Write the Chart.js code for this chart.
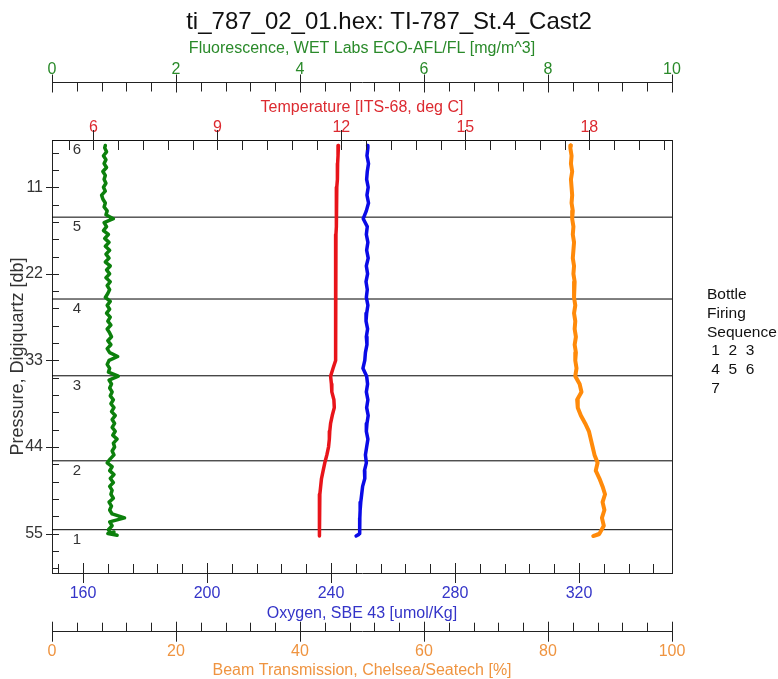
<!DOCTYPE html>
<html>
<head>
<meta charset="utf-8">
<script src="https://cdn.jsdelivr.net/npm/chart.js@4.4.0/dist/chart.umd.min.js"></script>
<style>
    body { margin: 0; background: #fff; }
    canvas { display: block; }
</style>
</head>
<body>
<canvas id="ctd-chart" width="778" height="679"></canvas>
<script>
// profile data (pressure in db)
const pressure = [5.7, 6, 7, 8, 9, 10, 11, 12, 13, 14, 15, 16, 17, 18, 19, 20, 21, 22, 23, 24, 25,
    26, 27, 28, 29, 30, 31, 32, 33, 34, 35, 36, 37, 38, 39, 40, 41, 42, 43, 44, 45,
    46, 47, 48, 49, 50, 51, 52, 53, 54, 55, 55.3, 55.1];
const temperature = [11.93, 11.92, 11.92, 11.91, 11.91, 11.90, 11.89, 11.88, 11.88, 11.88, 11.88, 11.88, 11.87, 11.87, 11.87, 11.87, 11.87, 11.87, 11.86, 11.86, 11.86,
    11.86, 11.86, 11.86, 11.86, 11.86, 11.86, 11.85, 11.85, 11.80, 11.74, 11.76, 11.77, 11.82, 11.83, 11.78, 11.74, 11.72, 11.71, 11.69, 11.65,
    11.60, 11.56, 11.52, 11.50, 11.48, 11.47, 11.47, 11.47, 11.47, 11.47, 11.47, 11.47];
const oxygen = [251.8, 251.9, 251.6, 252.1, 251.7, 251.5, 252.0, 251.6, 252.1, 251.4, 250.4, 251.7, 251.4, 251.9, 251.5, 252.0, 251.4, 251.8, 251.3, 251.7, 251.4,
    251.9, 251.5, 251.3, 251.8, 251.4, 251.6, 251.1, 250.9, 250.3, 251.5, 251.8, 251.4, 251.9, 251.5, 252.0, 251.6, 251.4, 251.9, 251.5, 251.1,
    251.4, 250.8, 250.9, 250.2, 249.9, 249.6, 249.4, 249.3, 249.3, 249.2, 248.1, 249.0];
const beamTransmission = [83.7, 83.6, 83.8, 83.7, 83.9, 83.7, 83.8, 83.9, 83.8, 84.0, 83.9, 84.1, 84.0, 84.2, 84.1, 84.0, 84.2, 84.1, 84.3, 84.2, 84.2,
    84.4, 84.2, 84.4, 84.3, 84.5, 84.3, 84.5, 84.4, 84.6, 84.4, 85.1, 85.4, 84.7, 84.8, 85.3, 86.0, 86.6, 86.9, 87.2, 87.5,
    88.0, 87.7, 88.3, 88.8, 89.2, 88.8, 89.1, 88.7, 89.0, 88.3, 87.3, 88.2];

// fluorescence is noisier, so it gets its own finer pressure list
const pressureFine = [5.7, 6, 6.5, 7, 7.5, 8, 8.5, 9, 9.5, 10, 10.5, 11, 11.5, 12, 12.5, 13, 13.5, 14, 14.5, 15, 15.5,
    16, 16.5, 17, 17.5, 18, 18.5, 19, 19.5, 20, 20.5, 21, 21.5, 22, 22.5, 23, 23.5, 24, 24.5, 25, 25.5,
    26, 26.5, 27, 27.5, 28, 28.5, 29, 29.5, 30, 30.5, 31, 31.5, 32, 32.5, 33, 33.5, 34, 34.5, 35, 35.5,
    36, 36.5, 37, 37.5, 38, 38.5, 39, 39.5, 40, 40.5, 41, 41.5, 42, 42.5, 43, 43.5, 44, 44.5, 45, 45.5,
    46, 46.5, 47, 47.5, 48, 48.5, 49, 49.5, 50, 50.5, 51, 51.5, 52, 52.5, 53, 53.5, 54, 54.5, 55, 55.2, 55.0, 54.8];
const fluorescence = [0.86, 0.85, 0.88, 0.83, 0.87, 0.84, 0.88, 0.82, 0.86, 0.84, 0.87, 0.83, 0.86, 0.80, 0.82, 0.86, 0.84, 0.89, 0.87, 0.99, 0.84,
    0.88, 0.83, 0.91, 0.85, 0.92, 0.86, 0.93, 0.87, 0.92, 0.86, 0.94, 0.88, 0.93, 0.87, 0.94, 0.89, 0.93, 0.90, 0.86, 0.94,
    0.89, 0.93, 0.88, 0.94, 0.90, 0.95, 0.89, 0.93, 0.96, 0.90, 0.95, 0.89, 0.93, 1.06, 0.92, 0.89, 0.93, 0.91, 1.07, 0.92,
    0.96, 0.93, 0.97, 0.94, 0.99, 0.95, 1.00, 0.96, 1.02, 0.97, 1.01, 0.97, 1.02, 0.98, 1.05, 0.99, 1.01, 0.97, 1.00, 0.94,
    0.89, 0.97, 0.93, 1.00, 0.94, 0.99, 0.93, 0.97, 0.95, 0.99, 0.92, 0.96, 0.93, 0.97, 1.17, 0.93, 0.97, 0.91, 0.95, 1.05, 0.90, 1.00];

const bottleNumbers = [1, 2, 3, 4, 5, 6];
const bottlePressure = [54.5, 45.75, 34.95, 25.2, 14.8, 5.0];

const pressureTicks = [11, 22, 33, 44, 55];
const fluorTicks = [0, 2, 4, 6, 8, 10];
const tempTicks = [6, 9, 12, 15, 18];
const oxygenTicks = [160, 200, 240, 280, 320];
const beamTicks = [0, 20, 40, 60, 80, 100];
const legendLines = ['Bottle', 'Firing', 'Sequence', ' 1  2  3', ' 4  5  6', ' 7'];

const GREEN = '#0c800c';
const GREEN_TEXT = '#2a8a2a';
const RED = '#e8141a';
const RED_TEXT = '#dc2a30';
const BLUE = '#0a0ae6';
const BLUE_TEXT = '#3434c8';
const ORANGE = '#ff8a0a';
const ORANGE_TEXT = '#ef9440';
const INK = '#222';
const FONT = "'Liberation Sans', Arial, sans-serif";

Chart.defaults.font.family = FONT;
Chart.defaults.font.size = 16;

function toPoints(xs, ys) {
    return xs.map((v, i) => ({ x: v, y: ys[i] }));
}

function fixedTicks(values) {
    return function(scale) {
        scale.ticks = values.map(v => ({ value: v }));
    };
}

function fixedSize(size) {
    return function(scale) {
        if (scale.isHorizontal()) {
            scale.height = size;
        } else {
            scale.width = size;
        }
    };
}

function profile(label, xs, ys, axis, color, width) {
    return {
        label: label,
        data: toPoints(xs, ys),
        xAxisID: axis,
        yAxisID: 'y',
        showLine: true,
        borderColor: color,
        borderWidth: width,
        borderJoinStyle: 'round',
        borderCapStyle: 'round',
        pointRadius: 0,
        tension: 0,
        order: 1
    };
}

const datasets = [
    profile('Fluorescence', fluorescence, pressureFine, 'xf', GREEN, 3.5),
    profile('Temperature', temperature, pressure, 'xt', RED, 3.5),
    profile('Oxygen', oxygen, pressure, 'xo', BLUE, 3.5),
    profile('Beam Transmission', beamTransmission, pressure, 'xb', ORANGE, 4)
];

// bottle firing lines, across the full width
bottlePressure.forEach((p, i) => {
    datasets.push({
        label: 'Bottle ' + bottleNumbers[i],
        data: [{ x: 0, y: p }, { x: 100, y: p }],
        xAxisID: 'xb',
        yAxisID: 'y',
        showLine: true,
        borderColor: '#000',
        borderWidth: 1,
        pointRadius: 0,
        order: 10
    });
});

function axisTitle(text, color, padding, size, lineHeight) {
    return { display: true, text: text, color: color, font: { size: size || 16, lineHeight: lineHeight || 1.2 }, padding: padding };
}

const plainGrid = { display: true, drawOnChartArea: false, drawTicks: false };
const plainBorder = { display: true, color: INK, width: 1 };

// tick marks drawn by hand: major / minor with different lengths, some inside the frame
const tickSpecs = [
    { id: 'xf', majors: fluorTicks, step: 0.4, edge: 'bottom', major: [-8, 10], minor: [0, 9] },
    { id: 'xt', majors: tempTicks, step: 0.6, edge: 'bottom', major: [-10, 10], minor: [0, 10] },
    { id: 'xo', majors: oxygenTicks, step: 8, edge: 'top', major: [-10, 10], minor: [-9, 0] },
    { id: 'xb', majors: beamTicks, step: 4, edge: 'top', major: [-10, 10], minor: [-9, 0] },
    { id: 'y', majors: pressureTicks, step: 2.2, edge: 'right', major: [-6, 7], minor: [0, 7] }
];

const tickMarks = {
    id: 'tickMarks',
    afterDraw(chart) {
        const ctx = chart.ctx;
        ctx.save();
        ctx.strokeStyle = INK;
        ctx.lineWidth = 1;
        tickSpecs.forEach(spec => {
            const scale = chart.scales[spec.id];
            const base = spec.majors[0];
            const values = [];
            for (let k = -100; k <= 200; k++) {
                const v = Math.round((base + k * spec.step) * 1000) / 1000;
                if (v >= scale.min - 1e-6 && v <= scale.max + 1e-6) values.push(v);
            }
            const line = scale[spec.edge];
            values.forEach(v => {
                const isMajor = spec.majors.some(m => Math.abs(m - v) < 1e-6);
                const len = isMajor ? spec.major : spec.minor;
                const px = Math.round(scale.getPixelForValue(v)) + 0.5;
                ctx.beginPath();
                if (scale.isHorizontal()) {
                    ctx.moveTo(px, line + len[0]);
                    ctx.lineTo(px, line + len[1]);
                } else {
                    ctx.moveTo(line + len[0], px);
                    ctx.lineTo(line + len[1], px);
                }
                ctx.stroke();
            });
        });

        // bottle numbers under each firing line
        const xb = chart.scales.xb;
        const y = chart.scales.y;
        ctx.fillStyle = '#333';
        ctx.font = '15px ' + FONT;
        ctx.textAlign = 'center';
        ctx.textBaseline = 'middle';
        bottlePressure.forEach((p, i) => {
            ctx.fillText(String(bottleNumbers[i]), xb.getPixelForValue(4), y.getPixelForValue(p) + 10);
        });

        // bottle firing sequence note on the right
        ctx.fillStyle = '#111';
        ctx.font = '15.5px ' + FONT;
        ctx.textAlign = 'left';
        legendLines.forEach((txt, i) => {
            ctx.fillText(txt, 707, 295 + i * 18.7);
        });
        ctx.restore();
    }
};

new Chart(document.getElementById('ctd-chart'), {
    type: 'scatter',
    data: { datasets: datasets },
    options: {
        responsive: false,
        animation: false,
        layout: { padding: 0 },
        plugins: {
            legend: { display: false },
            tooltip: { enabled: false },
            title: {
                display: true,
                text: 'ti_787_02_01.hex: TI-787_St.4_Cast2',
                color: '#111',
                font: { size: 24, weight: 'normal' },
                padding: { top: 8, bottom: 2 }
            }
        },
        scales: {
            xf: {
                type: 'linear', position: 'top', weight: 1, min: 0, max: 10,
                afterBuildTicks: fixedTicks(fluorTicks), afterFit: fixedSize(43.7),
                ticks: { color: GREEN_TEXT, padding: 3.3 },
                grid: plainGrid, border: plainBorder,
                title: axisTitle('Fluorescence, WET Labs ECO-AFL/FL [mg/m^3]', GREEN_TEXT, { top: 0.6, bottom: 0 })
            },
            xt: {
                type: 'linear', position: 'top', weight: 0, min: 5, max: 20,
                afterBuildTicks: fixedTicks(tempTicks), afterFit: fixedSize(57.5),
                ticks: { color: RED_TEXT, padding: 3.2 },
                grid: plainGrid, border: plainBorder,
                title: axisTitle('Temperature [ITS-68, deg C]', RED_TEXT, { top: 15.4, bottom: 0 })
            },
            xo: {
                type: 'linear', position: 'bottom', weight: 0, min: 150, max: 350,
                afterBuildTicks: fixedTicks(oxygenTicks), afterFit: fixedSize(58.7),
                ticks: { color: BLUE_TEXT, padding: 11.1 },
                grid: plainGrid, border: plainBorder,
                title: axisTitle('Oxygen, SBE 43 [umol/Kg]', BLUE_TEXT, { top: 0, bottom: 8.1 })
            },
            xb: {
                type: 'linear', position: 'bottom', weight: 1, min: 0, max: 100,
                afterBuildTicks: fixedTicks(beamTicks), afterFit: fixedSize(47.3),
                ticks: { color: ORANGE_TEXT, padding: 10.4 },
                grid: plainGrid, border: plainBorder,
                title: axisTitle('Beam Transmission, Chelsea/Seatech [%]', ORANGE_TEXT, { top: 0, bottom: 0 }, 16, 1)
            },
            y: {
                type: 'linear', position: 'left', reverse: true, min: 5, max: 60,
                afterBuildTicks: fixedTicks(pressureTicks), afterFit: fixedSize(52),
                ticks: { color: '#333', padding: 9 },
                grid: plainGrid, border: plainBorder,
                title: axisTitle('Pressure, Digiquartz [db]', '#333', { top: 7, bottom: 0 }, 18)
            },
            yr: {
                type: 'linear', position: 'right', min: 5, max: 60,
                afterFit: fixedSize(106),
                ticks: { display: false },
                grid: plainGrid, border: plainBorder
            }
        }
    },
    plugins: [tickMarks]
});
</script>
</body>
</html>
